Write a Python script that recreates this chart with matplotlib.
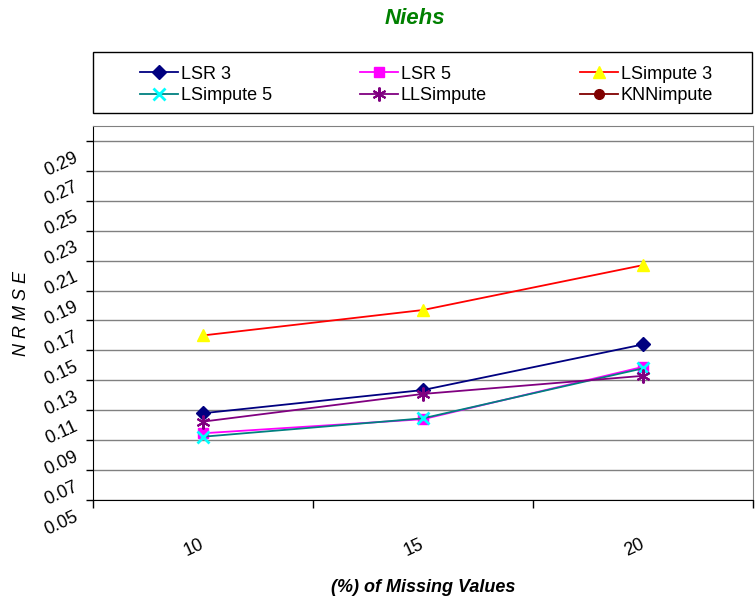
import matplotlib
matplotlib.use("Agg")
import matplotlib.pyplot as plt
import matplotlib.transforms as mtransforms
from matplotlib.patches import Rectangle
import numpy as np

plt.rcParams['font.family'] = ['Liberation Sans Narrow', 'Liberation Sans', 'DejaVu Sans']

# data
missing = ["10", "15", "20"]
lsr3 = [0.108, 0.1235, 0.154]
lsr5 = [0.0946, 0.104, 0.139]
lsimpute3 = [0.160, 0.177, 0.207]
lsimpute5 = [0.0923, 0.1046, 0.138]
llsimpute = [0.1024, 0.1209, 0.133]
knnimpute = [np.nan, np.nan, np.nan]  # in legend, no visible points

yticks = [0.05, 0.07, 0.09, 0.11, 0.13, 0.15, 0.17, 0.19, 0.21, 0.23, 0.25, 0.27, 0.29]

W, H = 755, 602
fig = plt.figure(figsize=(W / 100, H / 100), dpi=100)
ax = fig.add_axes([93 / W, 1 - 500 / H, 660 / W, 374 / H])

x = np.arange(len(missing))
series = [
    ("LSR 3", lsr3, dict(color="#000080", marker="D", mfc="#000080", mec="#000080", ms=7.5)),
    ("LSR 5", lsr5, dict(color="#FF00FF", marker="s", mfc="#FF00FF", mec="#FF00FF", ms=7)),
    ("LSimpute 3", lsimpute3, dict(color="#FF0000", marker="^", mfc="#FFFF00", mec="#FFFF00", ms=9)),
    ("LSimpute 5", lsimpute5, dict(color="#008080", marker="x", mfc="#00FFFF", mec="#00FFFF", ms=9, mew=2)),
    ("LLSimpute", llsimpute, dict(color="#800080", marker=(6, 2, 0), mfc="#800080", mec="#800080", ms=10, mew=1.5)),
    ("KNNimpute", knnimpute, dict(color="#800000", marker="o", mfc="#800000", mec="#800000", ms=7)),
]
handles = []
for name, vals, st in series:
    h, = ax.plot(x, vals, lw=1.3, label=name, **st)
    handles.append(h)

ax.set_xlim(-0.5, 2.5)
ax.set_ylim(0.05, 0.30)
ax.set_yticks(yticks)
ax.set_yticklabels([f"{v:.2f}" for v in yticks])
ax.yaxis.grid(True, color="#808080", lw=1)
ax.set_axisbelow(True)
ax.tick_params(axis="y", direction="out", length=5, width=1, pad=9, labelsize=13)
down = mtransforms.ScaledTranslation(0, -0.08, fig.dpi_scale_trans)
for lab in ax.get_yticklabels():
    lab.set_rotation(25)
    lab.set_rotation_mode("anchor")
    lab.set_ha("right")
    lab.set_va("top")
    lab.set_transform(lab.get_transform() + down)

# category boundaries as major ticks, labels on minor ticks
ax.set_xticks([-0.5, 0.5, 1.5, 2.5])
ax.set_xticklabels([])
ax.set_xticks(x, minor=True)
ax.set_xticklabels(missing, minor=True)
ax.tick_params(axis="x", which="major", direction="out", length=6, width=1)
ax.tick_params(axis="x", which="minor", length=0, pad=31, labelsize=13)
for lab in ax.get_xticklabels(minor=True):
    lab.set_rotation(25)
    lab.set_rotation_mode("anchor")
    lab.set_ha("right")
    lab.set_va("center")

for s in ["left", "bottom"]:
    ax.spines[s].set_color("black")
for s in ["top", "right"]:
    ax.spines[s].set_color("#808080")

fig.text(415 / W, 1 - 18 / H, "Niehs", color="#008000", fontsize=16,
         fontweight="bold", fontstyle="italic", ha="center", va="center")
fig.text(423 / W, 1 - 588 / H, "(%) of Missing Values", fontsize=13,
         fontweight="bold", fontstyle="italic", ha="center", va="center")
fig.text(22 / W, 1 - 314 / H, "N R M S E", fontsize=13, fontstyle="italic",
         rotation=90, ha="center", va="center")

# legend box, three columns placed like the reference
fig.patches.append(Rectangle((93 / W, 1 - 113 / H), 659 / W, 61 / H,
                             transform=fig.transFigure, fill=False,
                             edgecolor="black", lw=1))
cols = [(140, [0, 3]), (360, [1, 4]), (580, [2, 5])]
for xpos, idx in cols:
    fig.legend(handles=[handles[i] for i in idx], loc="center left",
               bbox_to_anchor=(xpos / W, 1 - 85 / H), frameon=False,
               fontsize=13, handlelength=2.1, handletextpad=0.15,
               labelspacing=0.25, borderpad=0, borderaxespad=0)

fig.savefig("out.png", dpi=100)
